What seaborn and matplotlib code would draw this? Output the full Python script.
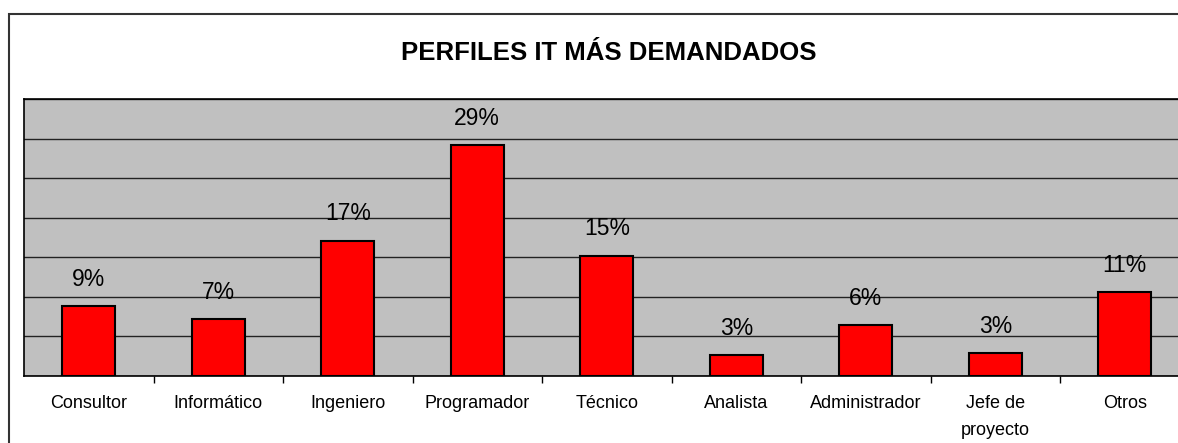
import matplotlib
matplotlib.use("Agg")
import matplotlib.pyplot as plt
import matplotlib.patches as patches
from matplotlib.ticker import MultipleLocator, NullFormatter
import seaborn as sns

# Chart data
categories = ["Consultor", "Informático", "Ingeniero", "Programador", "Técnico",
              "Analista", "Administrador", "Jefe de\nproyecto", "Otros"]
values = [0.088, 0.072, 0.171, 0.292, 0.152, 0.026, 0.064, 0.029, 0.106]
title = "PERFILES IT MÁS DEMANDADOS"

sns.set_style("white")
plt.rcParams["font.family"] = ["Liberation Sans", "DejaVu Sans"]
plt.rcParams["text.color"] = "black"
plt.rcParams["xtick.color"] = "black"
plt.rcParams["xtick.labelcolor"] = "black"

W, H = 1178, 443
fig = plt.figure(figsize=(W / 100, H / 100), dpi=100)
fig.patch.set_facecolor("white")

# outer chart border (cut off on the right and bottom like the reference)
fig.patches.append(patches.Rectangle((8.5 / W, -0.1), 1.2, (H - 14) / H + 0.1,
                                     transform=fig.transFigure, fill=False,
                                     edgecolor="#333333", linewidth=1.5))

# plot area runs past the right edge of the image
ax = fig.add_axes([24 / W, (H - 376) / H, 1165.5 / W, (376 - 99) / H])
ax.set_facecolor("#C0C0C0")

sns.barplot(x=categories, y=values, color="#FF0000", edgecolor="black",
            linewidth=1.5, width=0.41, saturation=1, ax=ax, zorder=3)

ax.set_xlim(-0.5, len(categories) - 0.5)
ax.set_ylim(0, 0.35)
ax.yaxis.set_major_locator(MultipleLocator(0.05))
ax.yaxis.set_major_formatter(NullFormatter())
ax.tick_params(axis="y", length=0)
ax.grid(axis="y", color="#222222", linewidth=1.0, zorder=1)
ax.set_axisbelow(True)

# ticks between categories
ax.set_xticks(range(len(categories)))
ax.set_xticklabels(categories, fontsize=13, linespacing=1.75, color="black")
ax.tick_params(axis="x", which="major", length=0, pad=14)
ax.set_xticks([i + 0.5 for i in range(len(categories) - 1)], minor=True)
ax.tick_params(axis="x", which="minor", bottom=True, length=5, width=1,
               color="black", direction="out")

for side in ["top", "left", "bottom"]:
    ax.spines[side].set_visible(True)
    ax.spines[side].set_color("black")
    ax.spines[side].set_linewidth(1.2)
ax.spines["right"].set_visible(False)
ax.set_xlabel("")
ax.set_ylabel("")

# value labels
for i, v in enumerate(values):
    ax.annotate(f"{round(v * 100)}%", (i, v), xytext=(0, 11),
                textcoords="offset points", ha="center", va="bottom",
                fontsize=16.5, color="black")

fig.text(609 / W, (H - 53) / H, title, ha="center", va="center",
         fontsize=18.5, fontweight="bold", color="black")

fig.savefig("out.png", dpi=100)
